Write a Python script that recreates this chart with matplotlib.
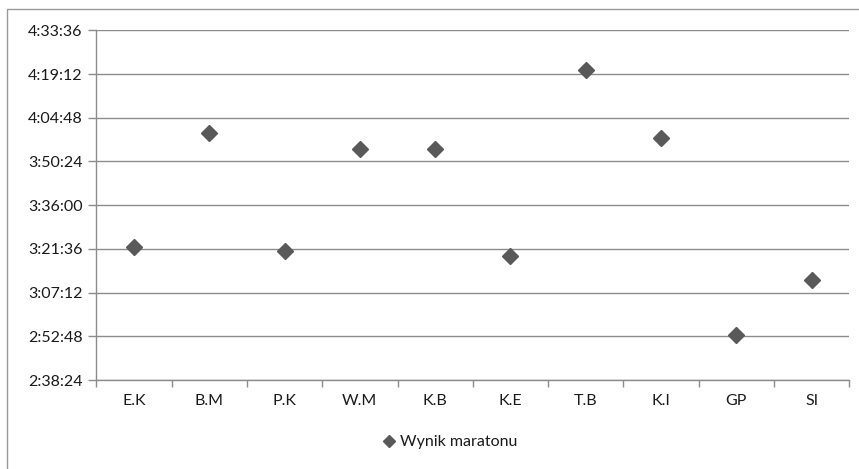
import matplotlib
matplotlib.use("Agg")
import matplotlib.pyplot as plt
from matplotlib.ticker import FuncFormatter, FixedLocator
from matplotlib.lines import Line2D
from matplotlib.patches import Rectangle

runners = ["E.K", "B.M", "P.K", "W.M", "K.B", "K.E", "T.B", "K.I", "GP", "SI"]
times = ["3:22:19", "3:59:54", "3:20:49", "3:54:25", "3:54:30",
         "3:19:09", "4:20:39", "3:58:15", "2:53:14", "3:11:21"]
series_name = "Wynik maratonu"


def to_seconds(t):
    h, m, s = (int(p) for p in t.split(":"))
    return h * 3600 + m * 60 + s


def fmt_hms(v, pos=None):
    v = int(round(v))
    return f"{v // 3600}:{(v % 3600) // 60:02d}:{v % 60:02d}"


y_min, y_max, y_step = to_seconds("2:38:24"), to_seconds("4:33:36"), to_seconds("0:14:24")

plt.rcParams["font.family"] = ["Lato", "DejaVu Sans"]
fig = plt.figure(figsize=(8.59, 4.69), dpi=100)
fig.patch.set_facecolor("white")

# outer chart frame
fig.patches.append(Rectangle((7 / 859, -0.02), 1.05, 1 - 9 / 469 + 0.02,
                             transform=fig.transFigure, fill=False,
                             edgecolor="#9a9a9a", linewidth=1.0))

ax = fig.add_axes([96.3 / 859, 1 - 380 / 469, (849.3 - 96.3) / 859, (380 - 30.3) / 469])

xs = list(range(len(runners)))
ys = [to_seconds(t) for t in times]
ax.plot(xs, ys, linestyle="none", marker="D", markersize=8.5,
        color="#595959", markeredgecolor="#595959", zorder=3)

ax.set_xlim(-0.5, len(runners) - 0.5)
ax.set_ylim(y_min, y_max)
ticks = list(range(y_min, y_max + 1, y_step))
ax.yaxis.set_major_locator(FixedLocator(ticks))
ax.yaxis.set_major_formatter(FuncFormatter(fmt_hms))
ax.grid(axis="y", color="#8c8c8c", linewidth=1.0)
ax.set_axisbelow(True)

ax.set_xticks(xs)
ax.set_xticklabels(runners)
ax.set_xticks([i - 0.5 for i in range(len(runners) + 1)], minor=True)
ax.tick_params(axis="x", which="major", length=0, pad=10, labelsize=11.5, labelcolor="#1a1a1a")
ax.tick_params(axis="x", which="minor", length=5, width=1, color="#8c8c8c", direction="out")
ax.tick_params(axis="y", length=6, width=1, color="#8c8c8c", pad=4, labelsize=11.5, labelcolor="#1a1a1a")

for side in ("top", "right"):
    ax.spines[side].set_visible(False)
for side in ("left", "bottom"):
    ax.spines[side].set_color("#8c8c8c")
    ax.spines[side].set_linewidth(1.0)

handle = Line2D([], [], linestyle="none", marker="D", markersize=6.5,
                color="#595959")
fig.legend([handle], [series_name], loc="center", bbox_to_anchor=(450 / 859, 1 - 442 / 469),
           frameon=False, fontsize=11.5, handlelength=0.8, handletextpad=0.3,
           labelcolor="#1a1a1a")

fig.savefig("out.png", dpi=100)
